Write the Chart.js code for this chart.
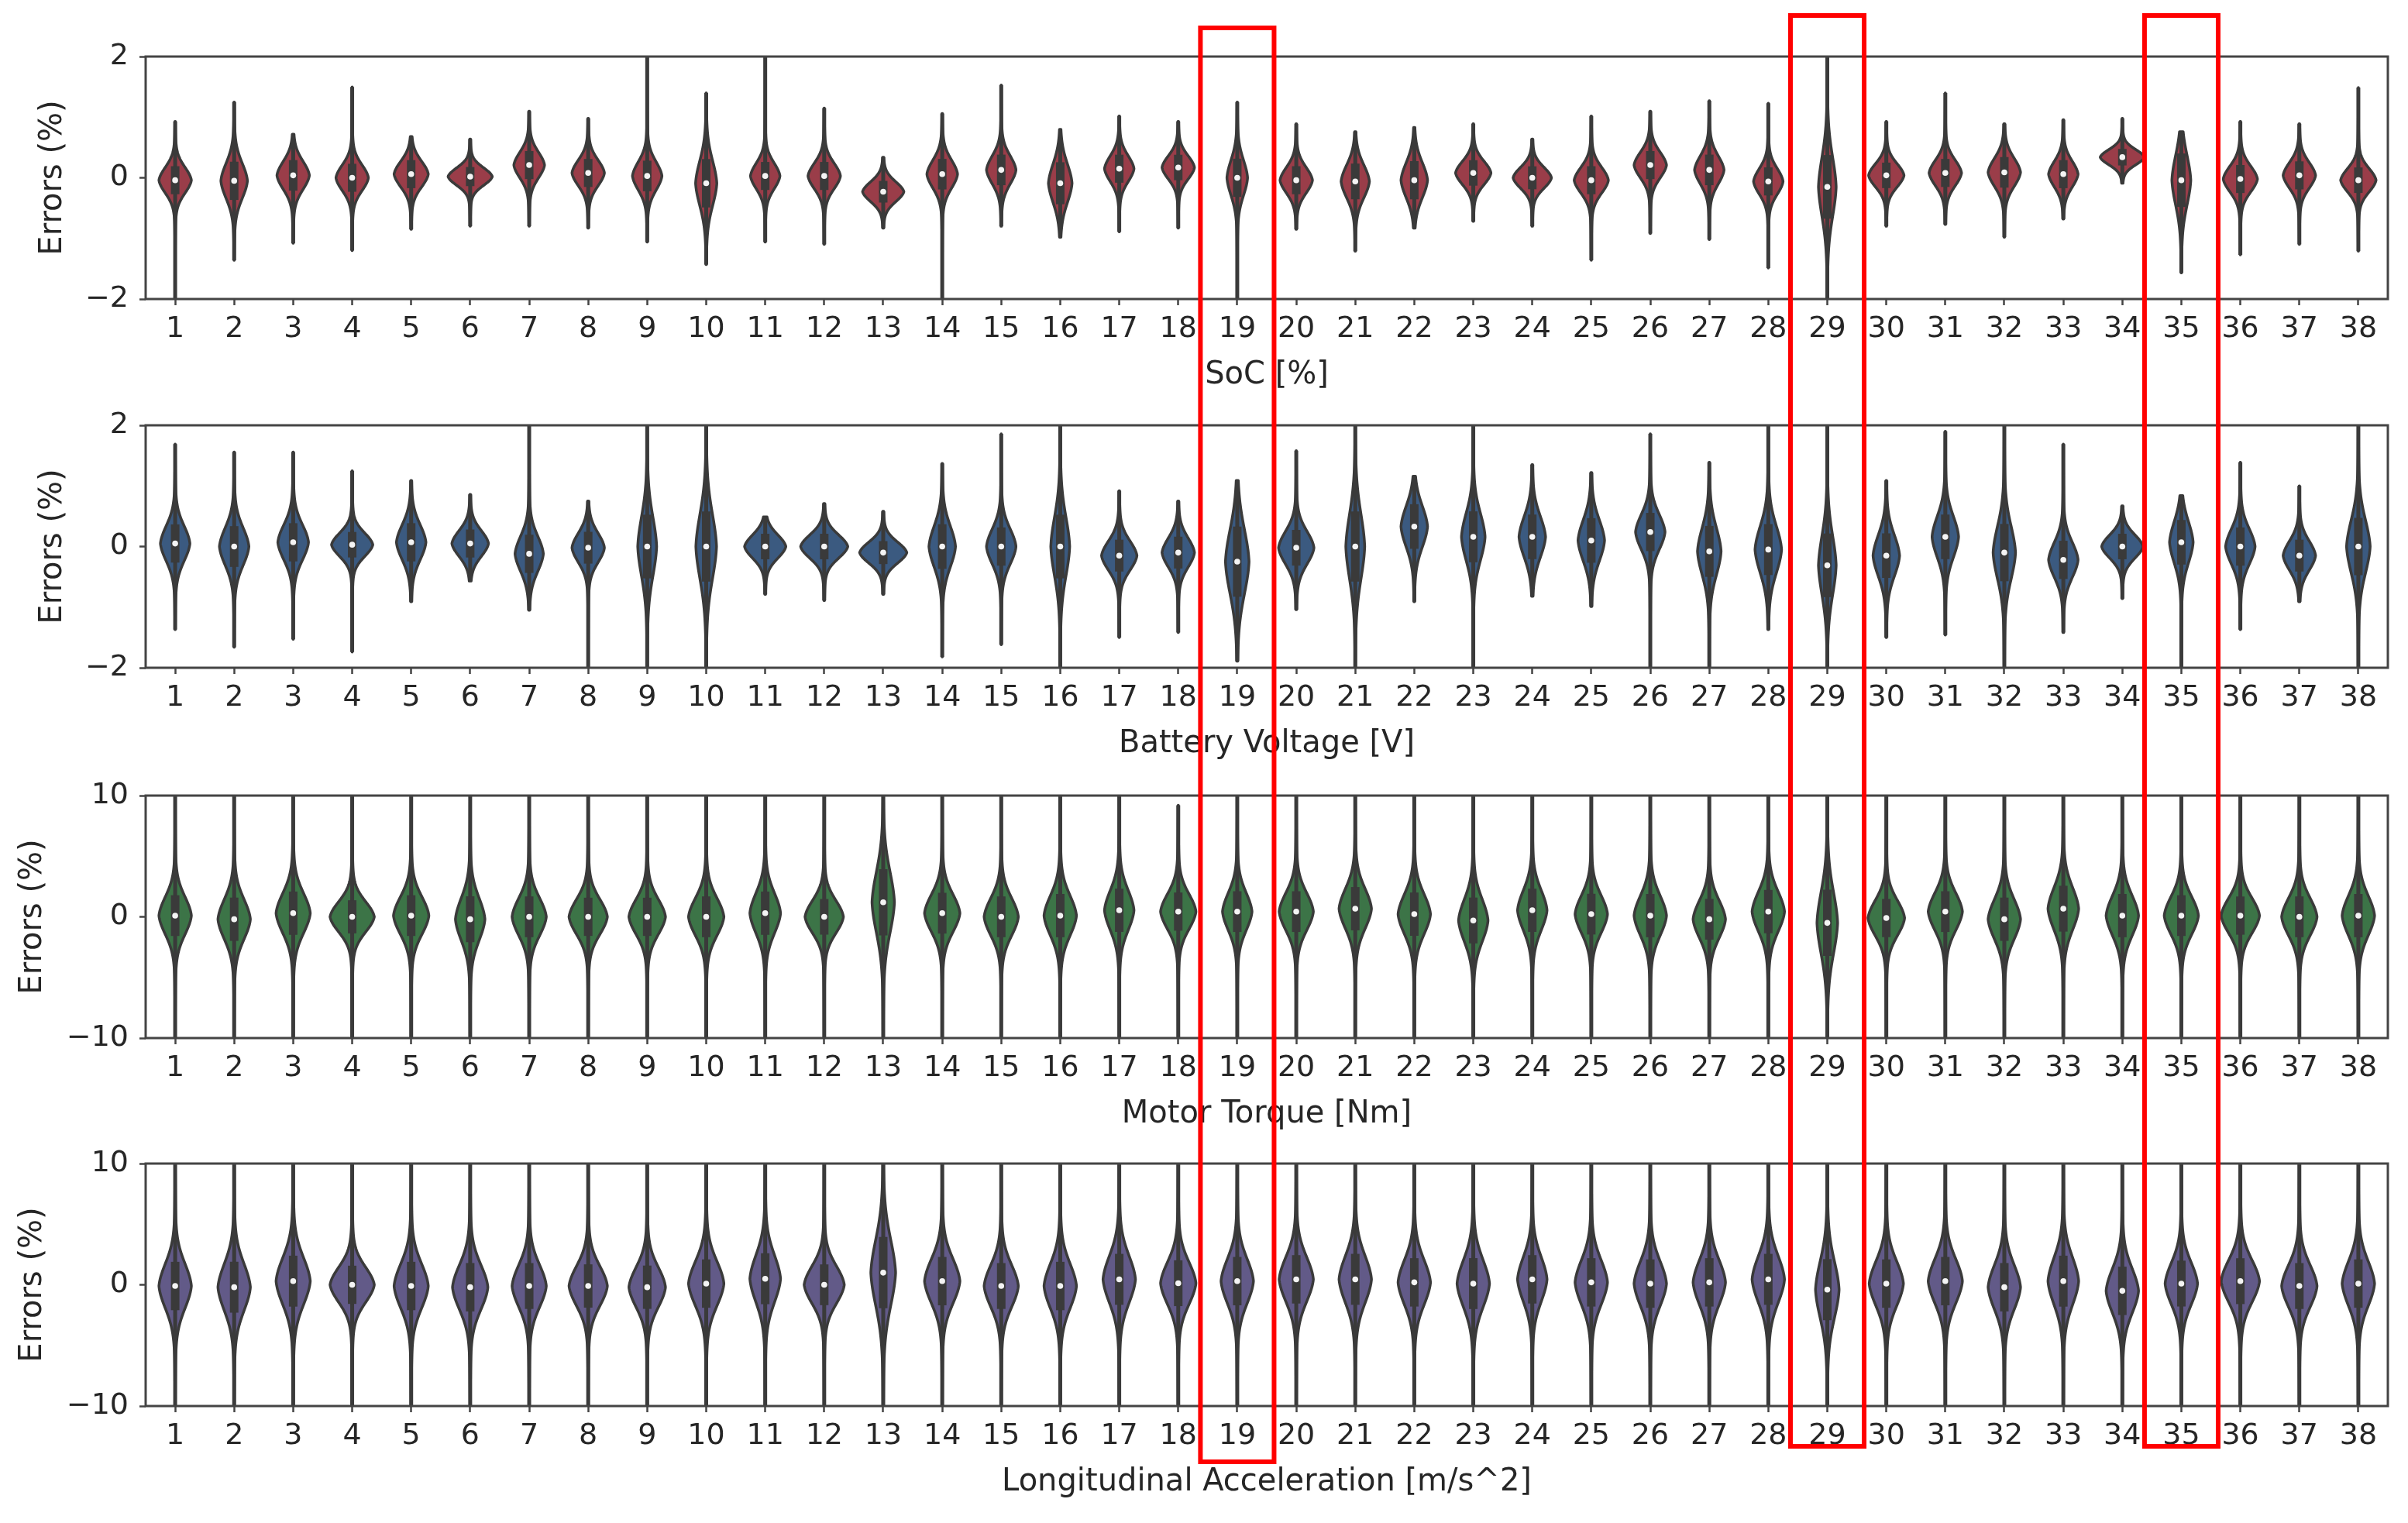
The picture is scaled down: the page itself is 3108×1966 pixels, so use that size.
<!DOCTYPE html>
<html><head><meta charset="utf-8">
<script src="https://cdn.jsdelivr.net/npm/chart.js@4.4.1/dist/chart.umd.min.js"></script>
<style>
html,body{margin:0;padding:0;background:#fff;}
#wrap{position:relative;width:3108px;height:1966px;overflow:hidden;background:#fff;}
canvas.panel{position:absolute;left:0;}
#overlay{position:absolute;left:0;top:0;pointer-events:none;}
</style></head><body>
<div id="wrap">
<canvas id="c1" class="panel" width="3108" height="537" style="top:0px"></canvas>
<canvas id="c2" class="panel" width="3108" height="537" style="top:476px"></canvas>
<canvas id="c3" class="panel" width="3108" height="537" style="top:954px"></canvas>
<canvas id="c4" class="panel" width="3108" height="537" style="top:1429px"></canvas>
<canvas id="overlay" width="3108" height="1966"></canvas>
</div>
<script>
// ---------- data ----------
const categories = ['1','2','3','4','5','6','7','8','9','10','11','12','13','14','15','16','17','18','19',
  '20','21','22','23','24','25','26','27','28','29','30','31','32','33','34','35','36','37','38'];
const highlighted = ['19','29','35'];

// Panel 1: SoC [%]
const socMed = [-0.04,-0.05,0.04,0.0,0.06,0.02,0.21,0.08,0.03,-0.09,0.03,0.03,-0.23,0.06,0.13,-0.09,0.15,0.17,0.0,
  -0.04,-0.06,-0.04,0.08,0.0,-0.04,0.21,0.13,-0.06,-0.15,0.04,0.08,0.09,0.06,0.34,-0.04,-0.02,0.04,-0.04];
const socLo = [-2.3,-1.36,-1.08,-1.2,-0.85,-0.8,-0.8,-0.83,-1.06,-1.43,-1.06,-1.1,-0.83,-2.3,-0.8,-0.98,-0.89,-0.83,-2.3,
  -0.85,-1.21,-0.83,-0.72,-0.8,-1.36,-0.92,-1.02,-1.49,-2.3,-0.8,-0.77,-0.98,-0.68,-0.09,-1.57,-1.27,-1.1,-1.21];
const socHi = [0.93,1.25,0.72,1.5,0.68,0.64,1.1,0.98,2.3,1.4,2.3,1.15,0.34,1.06,1.53,0.8,1.02,0.93,1.25,
  0.89,0.76,0.83,0.89,0.64,1.02,1.1,1.27,1.23,2.3,0.93,1.4,0.89,0.96,0.98,0.76,0.93,0.89,1.49];
const socSpread = [0.22,0.3,0.24,0.22,0.22,0.15,0.22,0.22,0.24,0.38,0.22,0.22,0.17,0.24,0.24,0.33,0.22,0.2,0.3,
  0.22,0.28,0.3,0.2,0.18,0.22,0.22,0.24,0.22,0.5,0.2,0.22,0.24,0.22,0.13,0.42,0.22,0.22,0.2];
const socWidth = [0.55,0.45,0.55,0.55,0.58,0.75,0.52,0.55,0.5,0.36,0.5,0.55,0.7,0.52,0.5,0.4,0.5,0.55,0.35,
  0.55,0.48,0.45,0.6,0.65,0.58,0.55,0.5,0.5,0.3,0.6,0.55,0.55,0.5,0.75,0.32,0.58,0.55,0.6];

// Panel 2: Battery Voltage [V]
const voltMed = [0.05,0.0,0.07,0.03,0.07,0.05,-0.12,-0.02,0.0,0.0,0.0,0.0,-0.1,0.0,0.0,0.0,-0.15,-0.1,-0.25,
  -0.02,0.0,0.33,0.16,0.16,0.1,0.24,-0.08,-0.05,-0.31,-0.15,0.16,-0.1,-0.22,0.0,0.07,0.0,-0.15,0.0];
const voltLo = [-1.37,-1.66,-1.53,-1.74,-0.91,-0.57,-1.05,-2.3,-2.3,-2.3,-0.79,-0.89,-0.79,-1.82,-1.62,-2.3,-1.5,-1.42,-1.89,
  -1.04,-2.3,-0.91,-2.3,-0.82,-0.99,-2.3,-2.3,-1.37,-2.3,-1.5,-1.46,-2.3,-1.42,-0.86,-2.3,-1.37,-0.91,-2.3];
const voltHi = [1.69,1.56,1.56,1.25,1.09,0.86,2.3,0.75,2.3,2.3,0.49,0.71,0.58,1.37,1.86,2.3,0.92,0.75,1.09,
  1.58,2.3,1.16,2.3,1.35,1.22,1.86,1.39,2.3,2.3,1.09,1.9,2.3,1.69,0.67,0.84,1.39,1.0,2.3];
const voltSpread = [0.3,0.32,0.3,0.2,0.3,0.22,0.3,0.25,0.5,0.55,0.2,0.2,0.18,0.35,0.3,0.5,0.25,0.25,0.55,
  0.28,0.55,0.35,0.4,0.35,0.35,0.3,0.4,0.4,0.5,0.35,0.35,0.45,0.3,0.2,0.35,0.3,0.25,0.45];
const voltWidth = [0.5,0.5,0.52,0.7,0.5,0.62,0.48,0.55,0.32,0.35,0.7,0.8,0.8,0.45,0.5,0.32,0.6,0.55,0.4,
  0.6,0.32,0.45,0.4,0.45,0.45,0.5,0.4,0.45,0.3,0.45,0.45,0.38,0.5,0.7,0.4,0.5,0.55,0.4];

// Panel 3: Motor Torque [Nm]
const torqMed = [0.1,-0.2,0.3,0.0,0.1,-0.2,0.0,0.0,0.0,0.0,0.3,0.0,1.2,0.3,0.0,0.1,0.54,0.43,0.43,
  0.43,0.67,0.22,-0.3,0.54,0.22,0.1,-0.2,0.43,-0.5,-0.1,0.43,-0.2,0.67,0.1,0.1,0.1,0.0,0.1];
const torqLo = [-10.5,-10.5,-10.5,-10.5,-10.5,-10.5,-10.5,-10.5,-10.5,-10.5,-10.5,-10.5,-10.5,-10.5,-10.5,-10.5,-10.5,-10.5,-10.5,
  -10.5,-10.5,-10.5,-10.5,-10.5,-10.5,-10.5,-10.5,-10.5,-10.5,-10.5,-10.5,-10.5,-10.5,-10.5,-10.5,-10.5,-10.5,-10.5];
const torqHi = [10.5,10.5,10.5,10.5,10.5,10.5,10.5,10.5,10.5,10.5,10.5,10.5,10.5,10.5,10.5,10.5,10.5,9.2,10.5,
  10.5,10.5,10.5,10.5,10.5,10.5,10.5,10.5,10.5,10.5,10.5,10.5,10.5,10.5,10.5,10.5,10.5,10.5,10.5];
const torqSpread = [1.6,1.7,1.7,1.3,1.6,1.8,1.6,1.5,1.5,1.6,1.7,1.4,2.6,1.6,1.6,1.7,1.7,1.5,1.6,
  1.6,1.7,1.7,1.8,1.7,1.6,1.7,1.6,1.7,2.6,1.5,1.6,1.7,1.8,1.7,1.6,1.5,1.6,1.7];
const torqWidth = [0.55,0.55,0.58,0.75,0.6,0.5,0.58,0.65,0.62,0.6,0.52,0.65,0.38,0.6,0.58,0.55,0.5,0.6,0.5,
  0.58,0.55,0.55,0.5,0.5,0.55,0.55,0.55,0.55,0.35,0.62,0.58,0.55,0.52,0.55,0.58,0.65,0.6,0.55];

// Panel 4: Longitudinal Acceleration [m/s^2]
const accMed = [-0.1,-0.2,0.3,0.0,-0.1,-0.2,-0.1,-0.1,-0.2,0.1,0.5,0.0,1.0,0.3,-0.1,-0.1,0.45,0.13,0.3,
  0.45,0.45,0.2,0.1,0.45,0.2,0.1,0.2,0.45,-0.4,0.1,0.3,-0.2,0.3,-0.5,0.1,0.3,-0.1,0.1];
const accLo = [-10.5,-10.5,-10.5,-10.5,-10.5,-10.5,-10.5,-10.5,-10.5,-10.5,-10.5,-10.5,-10.5,-10.5,-10.5,-10.5,-10.5,-10.5,-10.5,
  -10.5,-10.5,-10.5,-10.5,-10.5,-10.5,-10.5,-10.5,-10.5,-10.5,-10.5,-10.5,-10.5,-10.5,-10.5,-10.5,-10.5,-10.5,-10.5];
const accHi = [10.5,10.5,10.5,10.5,10.5,10.5,10.5,10.5,10.5,10.5,10.5,10.5,10.5,10.5,10.5,10.5,10.5,10.5,10.5,
  10.5,10.5,10.5,10.5,10.5,10.5,10.5,10.5,10.5,10.5,10.5,10.5,10.5,10.5,10.5,10.5,10.5,10.5,10.5];
const accSpread = [1.9,2.0,2.0,1.5,1.9,1.9,1.8,1.7,1.7,1.9,2.0,1.6,2.8,1.9,1.8,1.9,2.0,1.8,1.9,
  1.9,2.0,1.9,2.0,1.9,1.9,1.9,1.9,2.0,2.4,1.9,1.9,1.9,2.0,1.9,1.8,1.8,1.8,1.9];
const accWidth = [0.55,0.55,0.58,0.75,0.58,0.6,0.58,0.65,0.62,0.6,0.52,0.68,0.42,0.6,0.58,0.55,0.55,0.6,0.55,
  0.58,0.55,0.55,0.55,0.5,0.55,0.55,0.55,0.55,0.4,0.58,0.58,0.55,0.52,0.55,0.55,0.65,0.6,0.55];

// ---------- panels ----------
const panels = [
  {id:'c1', xTitle:'SoC [%]', med:socMed, lo:socLo, hi:socHi, sd:socSpread, wd:socWidth,
   color:'#9a3d49', yMin:-2, yMax:2, yStep:2, yTitlePad:45},
  {id:'c2', xTitle:'Battery Voltage [V]', med:voltMed, lo:voltLo, hi:voltHi, sd:voltSpread, wd:voltWidth,
   color:'#3b5a80', yMin:-2, yMax:2, yStep:2, yTitlePad:45},
  {id:'c3', xTitle:'Motor Torque [Nm]', med:torqMed, lo:torqLo, hi:torqHi, sd:torqSpread, wd:torqWidth,
   color:'#3c7447', yMin:-10, yMax:10, yStep:10, yTitlePad:19},
  {id:'c4', xTitle:'Longitudinal Acceleration [m/s^2]', med:accMed, lo:accLo, hi:accHi, sd:accSpread, wd:accWidth,
   color:'#625a88', yMin:-10, yMax:10, yStep:10, yTitlePad:19}
];

const FONT = "'DejaVu Sans', 'Liberation Sans', sans-serif";
const TEXT = '#262626';
const EDGE = '#3a3a3a';

function drawViolin(ctx, xs, ys, i, p) {
  const cx = xs.getPixelForValue(i);
  const cw = Math.abs(xs.getPixelForValue(1) - xs.getPixelForValue(0));
  const m = p.med[i], lo = p.lo[i], hi = p.hi[i], sd = p.sd[i];
  const W = p.wd[i] * cw / 2;
  const N = 240;
  const pts = [];
  for (let k = 0; k <= N; k++) {
    const v = lo + (hi - lo) * k / N;
    const z = (v - m) / sd;
    const f = 0.78 * Math.exp(-0.5 * z * z) + 0.22 * Math.exp(-Math.abs(z) / 1.6);
    pts.push([W * f, ys.getPixelForValue(v)]);
  }
  ctx.beginPath();
  ctx.moveTo(cx - pts[0][0], pts[0][1]);
  for (let k = 1; k <= N; k++) ctx.lineTo(cx - pts[k][0], pts[k][1]);
  for (let k = N; k >= 0; k--) ctx.lineTo(cx + pts[k][0], pts[k][1]);
  ctx.closePath();
  ctx.fillStyle = p.color;
  ctx.fill();
  ctx.lineJoin = 'round';
  ctx.lineWidth = 3.5;
  ctx.strokeStyle = EDGE;
  ctx.stroke();
  // whisker
  ctx.beginPath();
  ctx.moveTo(cx, ys.getPixelForValue(lo));
  ctx.lineTo(cx, ys.getPixelForValue(hi));
  ctx.lineWidth = 5;
  ctx.lineCap = 'butt';
  ctx.stroke();
  // box (interquartile)
  ctx.beginPath();
  ctx.moveTo(cx, ys.getPixelForValue(m - 1.05 * sd));
  ctx.lineTo(cx, ys.getPixelForValue(m + 1.05 * sd));
  ctx.lineWidth = 11;
  ctx.stroke();
  // median
  ctx.beginPath();
  ctx.arc(cx, ys.getPixelForValue(m), 3.8, 0, Math.PI * 2);
  ctx.fillStyle = '#f4f4f4';
  ctx.fill();
}

const violinPlugin = {
  id: 'violins',
  beforeDatasetsDraw(chart) {
    const p = chart.options.plugins.violins.panel;
    const {ctx, chartArea: a} = chart;
    const xs = chart.scales.x, ys = chart.scales.y;
    ctx.save();
    ctx.beginPath();
    ctx.rect(a.left, a.top, a.right - a.left, a.bottom - a.top);
    ctx.clip();
    for (let i = 0; i < categories.length; i++) drawViolin(ctx, xs, ys, i, p);
    ctx.restore();
  },
  afterDraw(chart) {
    const {ctx, chartArea: a} = chart;
    ctx.save();
    ctx.strokeStyle = '#444444';
    ctx.lineWidth = 3;
    ctx.strokeRect(a.left, a.top, a.right - a.left, a.bottom - a.top);
    ctx.restore();
  }
};

function minusFmt(v) { return v < 0 ? '\u2212' + Math.abs(v) : String(v); }

const charts = panels.map(p => new Chart(document.getElementById(p.id), {
  type: 'line',
  data: {
    labels: categories,
    datasets: [{ data: p.med, showLine: false, pointRadius: 0, pointHoverRadius: 0 }]
  },
  options: {
    responsive: false,
    animation: false,
    events: [],
    layout: { padding: { left: 0, right: 26, top: 73, bottom: 0 } },
    plugins: { legend: { display: false }, tooltip: { enabled: false }, violins: { panel: p } },
    scales: {
      x: {
        type: 'category',
        offset: true,
        grid: { offset: false, drawOnChartArea: false, drawTicks: true, tickLength: 8, tickColor: '#444444', tickWidth: 2.5 },
        border: { display: false },
        ticks: { color: TEXT, font: { family: FONT, size: 38 }, padding: 8, maxRotation: 0, autoSkip: false },
        title: { display: true, text: p.xTitle, color: TEXT, font: { family: FONT, size: 40 }, padding: { top: 0, bottom: 28 } },
        afterFit(s) { s.height = 151; }
      },
      y: {
        type: 'linear',
        min: p.yMin, max: p.yMax,
        grid: { drawOnChartArea: false, drawTicks: true, tickLength: 8, tickColor: '#444444', tickWidth: 2.5 },
        border: { display: false },
        ticks: { stepSize: p.yStep, color: TEXT, font: { family: FONT, size: 38 }, padding: 14, callback: minusFmt },
        title: { display: true, text: 'Errors (%)', color: TEXT, font: { family: FONT, size: 40 }, padding: { top: p.yTitlePad, bottom: 0 } },
        afterFit(s) { s.width = 188; }
      }
    }
  },
  plugins: [violinPlugin]
}));

// highlight boxes around selected categories, spanning all panels
function drawHighlights() {
  const ov = document.getElementById('overlay');
  const ctx = ov.getContext('2d');
  const xs = charts[0].scales.x;
  const cw = Math.abs(xs.getPixelForValue(1) - xs.getPixelForValue(0));
  const boxes = [
    {cat: highlighted[0], top: 36, bottom: 1887},
    {cat: highlighted[1], top: 20, bottom: 1867},
    {cat: highlighted[2], top: 20, bottom: 1867}
  ];
  ctx.strokeStyle = '#ff0000';
  ctx.lineWidth = 6;
  boxes.forEach(b => {
    const cx = xs.getPixelForValue(categories.indexOf(b.cat));
    const hw = 0.624 * cw;
    ctx.strokeRect(cx - hw, b.top, hw * 2, b.bottom - b.top);
  });
}
drawHighlights();
</script>
</body></html>
